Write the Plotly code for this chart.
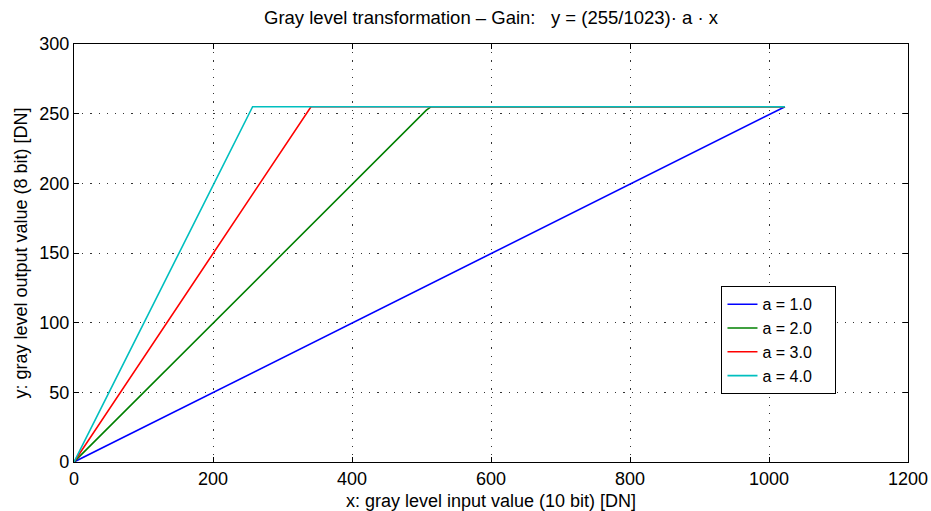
import plotly.graph_objects as go

# breakpoints (x input DN, y output DN)
x_a1 = [0, 1023]
y_a1 = [0, 255]
x_a2 = [0, 507, 514, 1023]
y_a2 = [0, 252.5, 255, 255]
x_a3 = [0, 341, 1023]
y_a3 = [0, 255, 255]
x_a4 = [0, 248, 257, 1023]
y_a4 = [0, 247, 255, 255]

names = ["a = 1.0", "a = 2.0", "a = 3.0", "a = 4.0"]
colors = ["#0000FF", "#008000", "#FF0000", "#00BFBF"]
xs = [x_a1, x_a2, x_a3, x_a4]
ys = [y_a1, y_a2, y_a3, y_a4]

x_ticks = [0, 200, 400, 600, 800, 1000, 1200]
y_ticks = [0, 50, 100, 150, 200, 250, 300]

fig = go.Figure()
for x, y, n, c in zip(xs, ys, names, colors):
    fig.add_trace(go.Scatter(x=x, y=y, mode="lines", name=n + "\u00a0\u00a0\u00a0\u00a0",
                             line=dict(color=c, width=1.6)))

axis_common = dict(
    showline=True, linecolor="black", linewidth=1.3, mirror="ticks",
    ticks="inside", ticklen=5, tickcolor="black", tickwidth=1,
    showgrid=True, gridcolor="rgba(0,0,0,0.8)", griddash="1.2px,7px", gridwidth=1,
    zeroline=False, tickfont=dict(size=18, color="black"),
    title_font=dict(size=18, color="black"), automargin=False,
    ticklabeloverflow="allow",
)

fig.update_layout(
    width=931, height=511,
    margin=dict(l=74, r=23, t=44, b=49),
    paper_bgcolor="white", plot_bgcolor="white",
    font=dict(family="Liberation Sans, Arial, sans-serif", color="black"),
    title=dict(text="Gray level transformation \u2013 Gain:   y = (255/1023)\u00b7 a \u00b7 x",
               xref="paper", x=0.5, xanchor="center", y=0.965, yanchor="middle",
               font=dict(size=18.5, color="black")),
    xaxis=dict(range=[0, 1200], tickvals=x_ticks, title=dict(text="x: gray level input value (10 bit) [DN]", standoff=9), **axis_common),
    yaxis=dict(range=[0, 300], tickvals=y_ticks, title=dict(text="y: gray level output value (8 bit) [DN]", standoff=6), **axis_common),
    legend=dict(x=0.776, y=0.421, xanchor="left", yanchor="top",
                bordercolor="black", borderwidth=1.3, bgcolor="white",
                font=dict(size=16, color="black"), tracegroupgap=0,
                itemwidth=30),
    showlegend=True,
)

# remove the default 8px page margin so the 931x511 figure fills the window
fig.write_html("out.html", config={"displayModeBar": False},
               post_script="document.body.style.margin='0';")
